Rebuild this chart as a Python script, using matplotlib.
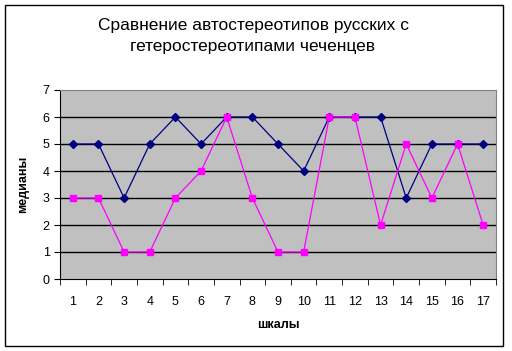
import numpy as np
import matplotlib
matplotlib.use('Agg')
import matplotlib.pyplot as plt
from matplotlib.patches import Rectangle

scales = list(range(1, 18))
auto_ru = [5, 5, 3, 5, 6, 5, 6, 6, 5, 4, 6, 6, 6, 3, 5, 5, 5]
hetero_che = [3, 3, 1, 1, 3, 4, 6, 3, 1, 1, 6, 6, 2, 5, 3, 5, 2]

plt.rcParams['font.family'] = ['Liberation Sans', 'DejaVu Sans']

fig = plt.figure(figsize=(5.12, 3.51), dpi=100)
# chart frame
fig.patches.append(Rectangle((5 / 512, 5 / 351), 498 / 512, 341 / 351, transform=fig.transFigure,
                             fill=False, edgecolor='black', linewidth=1))
ax = fig.add_axes([60 / 512, 1 - 279 / 351, 436 / 512, 189 / 351])
ax.set_facecolor('#C0C0C0')

for y in range(1, 7):
    ax.axhline(y, color='black', linewidth=1, zorder=1)

ax.plot(scales, auto_ru, color='#000080', marker='D', markersize=4, linewidth=0.9, zorder=3)
ax.plot(scales, hetero_che, color='#FF00FF', marker='s', markersize=5, linewidth=0.9, zorder=3)

ax.set_xlim(0.5, 17.5)
ax.set_ylim(0, 7)
ax.set_xticks(scales)
ax.set_xticklabels([str(s) for s in scales], fontsize=9)
ax.tick_params(axis='x', which='major', length=0, pad=12)
ax.set_xticks(np.arange(0.5, 18, 1), minor=True)
ax.tick_params(axis='x', which='minor', length=4, direction='out')
ax.set_yticks(range(0, 8))
ax.tick_params(axis='y', labelsize=9, length=4, direction='out')

for side in ['top', 'right']:
    ax.spines[side].set_color('#808080')
ax.spines['left'].set_color('black')
ax.spines['bottom'].set_color('black')

ax.set_xlabel('шкалы', fontsize=9, fontweight='bold', labelpad=8)
ax.set_ylabel('медианы', fontsize=9, fontweight='bold', labelpad=10)
fig.text(253 / 512, 1 - 36 / 351, 'Сравнение автостереотипов русских с\nгетеростереотипами чеченцев',
         ha='center', va='center', fontsize=12.5, linespacing=1.45)

plt.savefig('out.png', dpi=100)
